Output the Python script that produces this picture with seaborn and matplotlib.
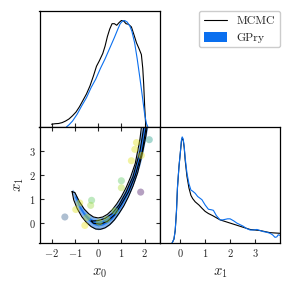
import numpy as np
import pandas as pd
import matplotlib
matplotlib.use("Agg")
import matplotlib.pyplot as plt
from matplotlib.patches import Patch
from matplotlib.lines import Line2D
import seaborn as sns

# ---------------- data ----------------
# 1D marginal of x0 (peak normalised to 1)
mcmc_x0_grid = [-2.0, -1.85, -1.7, -1.55, -1.4, -1.25, -1.1, -0.95, -0.8, -0.65, -0.5, -0.35, -0.2, -0.07, 0.05, 0.2,
                0.3, 0.4, 0.5, 0.6, 0.7, 0.8, 0.9, 1.0, 1.1, 1.2, 1.3, 1.43, 1.55, 1.65, 1.75, 1.86, 1.92, 1.96, 2.0, 2.05]
mcmc_x0_dens = [0.025, 0.03, 0.032, 0.04, 0.055, 0.075, 0.105, 0.14, 0.19, 0.25, 0.31, 0.385, 0.48, 0.57, 0.62, 0.69,
                0.76, 0.85, 0.92, 0.97, 0.97, 0.955, 0.98, 1.0, 0.995, 0.97, 0.965, 0.94, 0.86, 0.79, 0.74, 0.68, 0.55, 0.4, 0.2, 0.0]
gpry_x0_grid = [-1.36, -1.25, -1.1, -0.9, -0.7, -0.5, -0.3, -0.1, 0.1, 0.3, 0.5, 0.7, 0.85, 0.95, 1.05, 1.14,
                1.25, 1.36, 1.45, 1.57, 1.68, 1.79, 1.9, 2.0, 2.08, 2.14]
gpry_x0_dens = [0.0, 0.02, 0.055, 0.12, 0.2, 0.275, 0.37, 0.45, 0.55, 0.64, 0.74, 0.84, 0.92, 0.97, 0.995, 1.0,
                0.985, 0.95, 0.9, 0.79, 0.64, 0.47, 0.29, 0.12, 0.03, 0.0]

# 1D marginal of x1
gpry_x1_grid = [-0.33, -0.25, -0.2, -0.15, -0.11, -0.05, 0.0, 0.05, 0.08, 0.12, 0.16, 0.2, 0.27, 0.35, 0.43, 0.5,
                0.6, 0.7, 0.87, 1.0, 1.13, 1.25, 1.33, 1.45, 1.6, 1.7, 1.8, 1.9, 2.0, 2.15, 2.27, 2.4, 2.53, 2.65,
                2.8, 2.95, 3.07, 3.2, 3.33, 3.45, 3.6, 3.7, 3.8, 3.87, 3.93, 4.0]
gpry_x1_dens = [0.0, 0.04, 0.125, 0.3, 0.53, 0.72, 0.84, 0.97, 1.0, 0.98, 0.91, 0.8, 0.66, 0.56, 0.5, 0.49,
                0.47, 0.44, 0.41, 0.36, 0.32, 0.315, 0.31, 0.26, 0.22, 0.22, 0.225, 0.23, 0.23, 0.21, 0.19, 0.175, 0.16, 0.14,
                0.125, 0.125, 0.13, 0.12, 0.11, 0.105, 0.094, 0.08, 0.056, 0.06, 0.08, 0.075]
mcmc_x1_grid = [-0.33, -0.25, -0.2, -0.15, -0.11, -0.05, 0.0, 0.05, 0.08, 0.12, 0.16, 0.2, 0.27, 0.35, 0.43, 0.5,
                0.6, 0.75, 0.87, 1.0, 1.13, 1.3, 1.45, 1.6, 1.8, 2.0, 2.2, 2.4, 2.6, 2.8, 3.0, 3.2, 3.4, 3.6, 3.8, 4.0]
mcmc_x1_dens = [0.0, 0.04, 0.12, 0.3, 0.52, 0.72, 0.84, 0.96, 0.99, 0.97, 0.9, 0.78, 0.63, 0.52, 0.45, 0.42,
                0.39, 0.36, 0.33, 0.3, 0.28, 0.26, 0.24, 0.22, 0.205, 0.19, 0.175, 0.16, 0.145, 0.13, 0.125, 0.12, 0.11, 0.1, 0.097, 0.094]

# GPry filled credible regions: lower / upper x1 bound for each x0
gp95_x0 = [-1.14, -1.1, -1.0, -0.8, -0.6, -0.4, -0.2, 0.0, 0.2, 0.4, 0.6, 0.8, 1.0, 1.2, 1.4, 1.6, 1.8, 1.9, 2.0, 2.1, 2.2]
gp95_lo = [1.36, 1.18, 0.88, 0.48, 0.17, -0.05, -0.2, -0.26, -0.22, -0.12, 0.04, 0.27, 0.57, 0.92, 1.32, 1.82, 2.42, 2.8, 3.3, 3.8, 4.3]
gp95_up = [1.36, 1.42, 1.3, 0.9, 0.6, 0.4, 0.27, 0.22, 0.27, 0.38, 0.56, 0.82, 1.12, 1.48, 1.93, 2.55, 3.6, 4.2, 4.5, 4.5, 4.5]
gp68_x0 = [-1.02, -0.95, -0.8, -0.6, -0.4, -0.2, 0.0, 0.2, 0.4, 0.6, 0.8, 1.0, 1.2, 1.4, 1.6, 1.8, 1.9, 2.0, 2.1]
gp68_lo = [1.12, 0.97, 0.62, 0.32, 0.11, -0.04, -0.1, -0.06, 0.04, 0.19, 0.42, 0.72, 1.07, 1.47, 1.97, 2.6, 3.1, 3.6, 4.1]
gp68_up = [1.12, 1.18, 0.78, 0.47, 0.27, 0.15, 0.1, 0.14, 0.25, 0.43, 0.68, 0.98, 1.36, 1.78, 2.33, 3.2, 3.8, 4.4, 4.5]

# MCMC contour lines (closed loops)
mc95_x0 = [-1.12, -1.0, -0.8, -0.6, -0.4, -0.2, 0.0, 0.2, 0.4, 0.6, 0.8, 1.0, 1.2, 1.4, 1.6, 1.8, 1.9,
           2.15, 2.05, 1.9, 1.7, 1.5, 1.3, 1.1, 0.9, 0.7, 0.5, 0.3, 0.1, -0.1, -0.3, -0.5, -0.7, -0.9, -1.05, -1.12]
mc95_x1 = [1.32, 1.28, 0.9, 0.6, 0.4, 0.27, 0.23, 0.27, 0.38, 0.56, 0.81, 1.11, 1.48, 1.93, 2.5, 3.5, 4.3,
           4.3, 3.6, 2.9, 2.1, 1.55, 1.1, 0.72, 0.42, 0.15, -0.05, -0.18, -0.24, -0.23, -0.13, 0.04, 0.28, 0.62, 0.98, 1.32]
mc68_x0 = [-0.3, 0.0, 0.3, 0.6, 0.9, 1.2, 1.5, 1.8, 2.0,
           2.1, 1.9, 1.6, 1.3, 1.0, 0.7, 0.4, 0.1, -0.2, -0.3]
mc68_x1 = [0.1, 0.12, 0.21, 0.41, 0.77, 1.3, 1.95, 3.0, 4.2,
           4.2, 3.0, 2.0, 1.3, 0.8, 0.35, 0.09, -0.03, 0.01, 0.1]

# GPry training points and their colour value
pts_x0 = [-1.43, -0.96, -0.79, -0.28, -0.32, -0.57, -0.48, 0.05, 0.38, 0.72, 1.0, 1.0, 1.83, 1.43, 1.58, 1.65, 1.86, 2.2]
pts_x1 = [0.27, 0.58, 0.85, 0.96, 0.75, -0.08, 0.25, 0.05, 0.17, 0.52, 1.77, 1.48, 1.3, 2.6, 3.07, 3.35, 2.82, 3.47]
pts_val = [0.3, 0.95, 0.95, 0.75, 0.85, 0.97, 0.92, 0.9, 0.88, 0.85, 0.75, 0.88, 0.05, 0.95, 0.95, 0.95, 0.97, 0.55]

x0_ticks = [-2, -1, 0, 1, 2]
x1_ticks = [0, 1, 2, 3]
legend_labels = ["MCMC", "GPry"]

# ---------------- style ----------------
sns.set_theme(style="ticks")
plt.rcParams.update({
    "font.family": "serif",
    "font.serif": ["cmr10", "DejaVu Serif"],
    "mathtext.fontset": "cm",
    "axes.formatter.use_mathtext": True,
    "axes.unicode_minus": False,
    "axes.linewidth": 0.9,
    "axes.edgecolor": "black",
})

BLUE = "#0a6fef"
BLUE_OUT = "#80b2ee"
BLUE_IN = "#1f78ef"
LW = 0.8

fig = plt.figure(figsize=(2.91, 2.91), dpi=100)
gs = fig.add_gridspec(2, 2, left=39.5 / 291, right=280 / 291, bottom=1 - 243.3 / 291,
                      top=1 - 10.5 / 291, wspace=0, hspace=0)
ax_t = fig.add_subplot(gs[0, 0])
ax_2d = fig.add_subplot(gs[1, 0])
ax_r = fig.add_subplot(gs[1, 1])

XLIM0 = (-2.52, 2.65)
XLIM1 = (-0.82, 4.0)

# top-left: x0 marginal
sns.lineplot(x=mcmc_x0_grid, y=mcmc_x0_dens, ax=ax_t, color="black", lw=LW, sort=False, estimator=None)
sns.lineplot(x=gpry_x0_grid, y=gpry_x0_dens, ax=ax_t, color=BLUE, lw=LW, sort=False, estimator=None)
ax_t.set_xlim(XLIM0)
ax_t.set_ylim(0, 1.094)
ax_t.set_xticks(x0_ticks)
ax_t.set_yticks([])
ax_t.tick_params(axis="x", direction="in", length=3, width=0.8, labelbottom=False, bottom=True)

# bottom-left: 2D
ax_2d.fill_between(gp95_x0, gp95_lo, gp95_up, color=BLUE_OUT, lw=0)
ax_2d.fill_between(gp68_x0, gp68_lo, gp68_up, color=BLUE_IN, lw=0)
sns.lineplot(x=mc95_x0, y=mc95_x1, ax=ax_2d, color="black", lw=LW, sort=False, estimator=None)
sns.lineplot(x=mc68_x0, y=mc68_x1, ax=ax_2d, color="black", lw=LW, sort=False, estimator=None)
pts = pd.DataFrame({"x0": pts_x0, "x1": pts_x1, "v": pts_val})
sns.scatterplot(data=pts, x="x0", y="x1", hue="v", palette="viridis", hue_norm=(0, 1),
                s=26, alpha=0.4, linewidth=0, legend=False, ax=ax_2d, zorder=5)
ax_2d.set_xlim(XLIM0)
ax_2d.set_ylim(XLIM1)
ax_2d.set_xticks(x0_ticks)
ax_2d.set_yticks(x1_ticks)
ax_2d.tick_params(direction="in", length=3, width=0.8, top=True, right=True, labelsize=7.5, pad=3)
ax_2d.set_xlabel("$x_0$", fontsize=10.5, labelpad=5)
ax_2d.set_ylabel("$x_1$", fontsize=10.5, labelpad=1.5)

# bottom-right: x1 marginal
sns.lineplot(x=mcmc_x1_grid, y=mcmc_x1_dens, ax=ax_r, color="black", lw=LW, sort=False, estimator=None)
sns.lineplot(x=gpry_x1_grid, y=gpry_x1_dens, ax=ax_r, color=BLUE, lw=LW, sort=False, estimator=None)
ax_r.set_xlim(XLIM1)
ax_r.set_ylim(0, 1.094)
ax_r.set_xticks(x1_ticks)
ax_r.set_yticks([])
ax_r.tick_params(axis="x", direction="in", length=3, width=0.8, labelsize=7.5, pad=3)
ax_r.set_xlabel("$x_1$", fontsize=10.5, labelpad=5)
ax_r.set_ylabel("")

for a in (ax_t, ax_2d, ax_r):
    for s in a.spines.values():
        s.set_visible(True)
        s.set_linewidth(0.9)
        s.set_color("black")

handles = [Line2D([0], [0], color="black", lw=0.8), Patch(facecolor=BLUE, edgecolor="none")]
fig.legend(handles, legend_labels, loc="upper right", bbox_to_anchor=(280 / 291, 1 - 10.7 / 291),
           borderaxespad=0, fontsize=8.5, frameon=True, fancybox=True, edgecolor="#cccccc", framealpha=1,
           handlelength=2.0, handleheight=0.9, borderpad=0.4, labelspacing=0.45, handletextpad=0.8)

fig.savefig("out.png", dpi=100)
